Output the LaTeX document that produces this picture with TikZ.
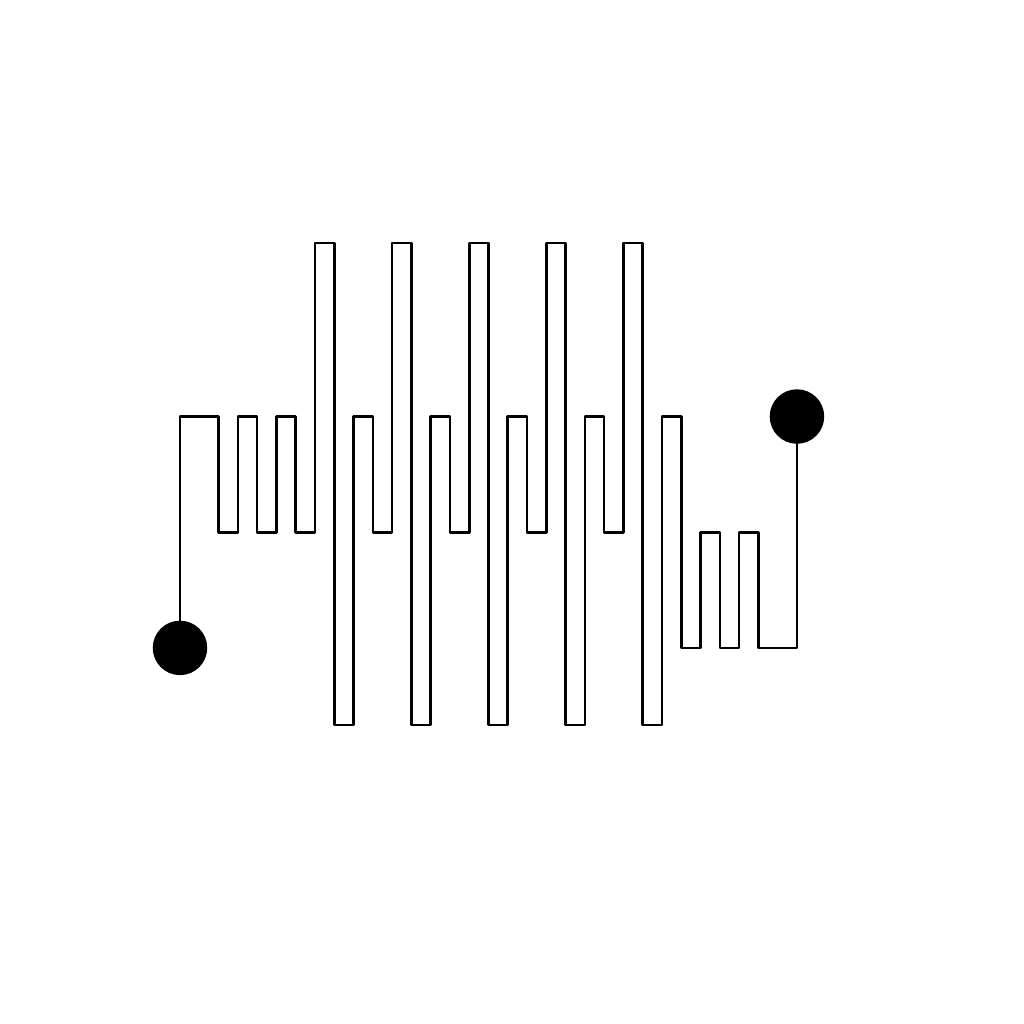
\documentclass[tikz,border=0pt]{standalone}
\begin{document}
\begin{tikzpicture}[x={(19.28pt,0)},y={(0,-19.28pt)},
  trace/.style={line width=2.6pt,line join=round,black},
  pad/.style={circle,fill=black,minimum size=54.5pt,inner sep=0pt}]
\useasboundingbox (-9.336,-12.604) rectangle (43.776,40.508);
\node[pad] (start) at (0,21) {};
\node[pad] (end) at (32,9) {};
\draw[trace] (start.center) -- (0,9) -- (2,9) -- (2,15) -- (3,15) -- (3,9) -- (4,9) -- (4,15) -- (5,15) -- (5,9) -- (6,9) -- (6,15) -- (7,15) -- (7,0) -- (8,0) -- (8,25) -- (9,25) -- (9,9) -- (10,9) -- (10,15) -- (11,15) -- (11,0) -- (12,0) -- (12,25) -- (13,25) -- (13,9) -- (14,9) -- (14,15) -- (15,15) -- (15,0) -- (16,0) -- (16,25) -- (17,25) -- (17,9) -- (18,9) -- (18,15) -- (19,15) -- (19,0) -- (20,0) -- (20,25) -- (21,25) -- (21,9) -- (22,9) -- (22,15) -- (23,15) -- (23,0) -- (24,0) -- (24,25) -- (25,25) -- (25,9) -- (26,9) -- (26,21) -- (27,21) -- (27,15) -- (28,15) -- (28,21) -- (29,21) -- (29,15) -- (30,15) -- (30,21) -- (32,21) -- (end.center);
\end{tikzpicture}
\end{document}
